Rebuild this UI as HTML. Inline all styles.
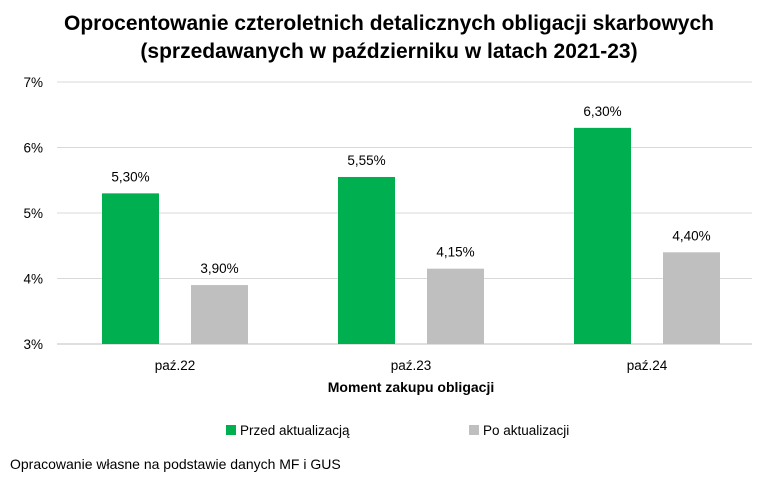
<!DOCTYPE html>
<html>
<head>
<meta charset="utf-8">
<style>
  html,body{margin:0;padding:0;background:#fff;}
  body{width:778px;height:477px;overflow:hidden;font-family:"Liberation Sans",Arial,sans-serif;}
  svg text{font-family:"Liberation Sans",Arial,sans-serif;}
</style>
</head>
<body>
<svg id="chart" width="778" height="477" viewBox="0 0 778 477">
  <text x="389" y="30" text-anchor="middle" font-size="21" font-weight="bold" fill="#000">Oprocentowanie czteroletnich detalicznych obligacji skarbowych</text>
  <text x="389" y="58" text-anchor="middle" font-size="21" font-weight="bold" fill="#000">(sprzedawanych w październiku w latach 2021-23)</text>
  <g id="grid"></g>
  <g id="yticks"></g>
  <g id="bars"></g>
  <g id="xlabels"></g>
  <text x="411" y="392" text-anchor="middle" font-size="14" font-weight="bold" fill="#000">Moment zakupu obligacji</text>
  <g>
    <g>
      <rect x="226" y="425" width="10" height="10" fill="#00b050"/>
      <text x="240" y="435" font-size="13.5" fill="#000">Przed aktualizacją</text>
    </g>
    <g>
      <rect x="469" y="425" width="10" height="10" fill="#bfbfbf"/>
      <text x="483" y="435" font-size="13.5" fill="#000">Po aktualizacji</text>
    </g>
  </g>
  <text x="10" y="469" font-size="14" fill="#000">Opracowanie własne na podstawie danych MF i GUS</text>
</svg>
<script>
const categories = ["paź.22","paź.23","paź.24"];
const przedValues = [5.30, 5.55, 6.30];
const poValues = [3.90, 4.15, 4.40];
const przedLabels = ["5,30%","5,55%","6,30%"];
const poLabels = ["3,90%","4,15%","4,40%"];
const yTicks = [3,4,5,6,7];
const yTickLabels = ["3%","4%","5%","6%","7%"];

const NS = "http://www.w3.org/2000/svg";
const yMin = 3, yMax = 7, yBottom = 344, yTop = 82;
const xLeft = 57;
function yScale(v){ return yBottom - (v - yMin) / (yMax - yMin) * (yBottom - yTop); }
function xCenter(i){ return 175 + i * 236; }
const barW = 57, off = 44.5;

function mk(tag, attrs, parent, txt){
  const e = document.createElementNS(NS, tag);
  for (const k in attrs) e.setAttribute(k, attrs[k]);
  if (txt !== undefined) e.textContent = txt;
  parent.appendChild(e);
  return e;
}
const grid = document.getElementById("grid");
const yt = document.getElementById("yticks");
yTicks.forEach((t, i) => {
  const y = yScale(t);
  const l = mk("line", {x1: xLeft, x2: 752, y1: y, y2: y, stroke: i === 0 ? "#bfbfbf" : "#d9d9d9", "stroke-width": 1}, grid);
  
  
  const tx = mk("text", {x: 43, y: y + 5, "text-anchor": "end", "font-size": 13.5, fill: "#000"}, yt, yTickLabels[i]);
  
  
});
const bars = document.getElementById("bars");
const xl = document.getElementById("xlabels");
categories.forEach((c, i) => {
  const cx = xCenter(i);
  const y1 = yScale(przedValues[i]);
  const b1 = mk("rect", {x: cx - off - barW / 2, y: y1, width: barW, height: yBottom - y1, fill: "#00b050"}, bars);
  
  
  const t1 = mk("text", {x: cx - off, y: y1 - 12, "text-anchor": "middle", "font-size": 13.5, fill: "#000"}, bars, przedLabels[i]);
  
  
  const y2 = yScale(poValues[i]);
  const b2 = mk("rect", {x: cx + off - barW / 2, y: y2, width: barW, height: yBottom - y2, fill: "#bfbfbf"}, bars);
  
  
  const t2 = mk("text", {x: cx + off, y: y2 - 12, "text-anchor": "middle", "font-size": 13.5, fill: "#000"}, bars, poLabels[i]);
  
  
  const xt = mk("text", {x: cx, y: 370, "text-anchor": "middle", "font-size": 13.5, fill: "#000"}, xl, c);
  
  
});
</script>
</body>
</html>
